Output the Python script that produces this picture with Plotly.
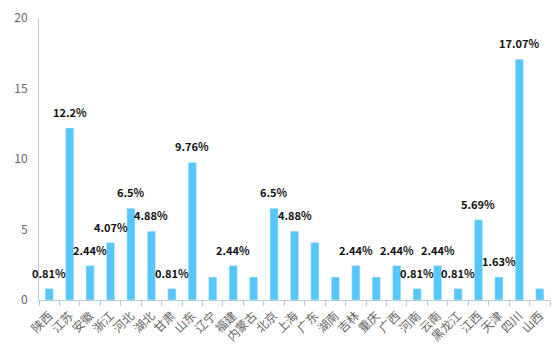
import plotly.graph_objects as go

categories = ["陕西", "江苏", "安徽", "浙江", "河北", "湖北", "甘肃", "山东", "辽宁", "福建",
              "内蒙古", "北京", "上海", "广东", "湖南", "吉林", "重庆", "广西", "河南", "云南",
              "黑龙江", "江西", "天津", "四川", "山西"]
values = [0.81, 12.2, 2.44, 4.07, 6.5, 4.88, 0.81, 9.76, 1.63, 2.44,
          1.63, 6.5, 4.88, 4.07, 1.63, 2.44, 1.63, 2.44, 0.81, 2.44,
          0.81, 5.69, 1.63, 17.07, 0.81]
label_shown = [True, True, True, True, True, True, True, True, False, True,
               False, True, True, False, False, True, False, True, True, True,
               True, True, True, True, False]
y_ticks = [0, 5, 10, 15, 20]

axis_color = "#b7c9dc"
font_family = "Microsoft YaHei, Noto Sans CJK SC, sans-serif"

fig = go.Figure()
fig.add_trace(go.Bar(x=categories, y=values, marker_color="#56c7fc", width=0.4,
                     hoverinfo="x+y"))

for c, v, s in zip(categories, values, label_shown):
    if s:
        fig.add_annotation(x=c, y=v, text="<b>%g%%</b>" % v, showarrow=False,
                           yshift=16, font=dict(size=11, color="#111", family=font_family))

fig.update_layout(
    width=560, height=360,
    margin=dict(l=31, r=18, t=10, b=68),
    plot_bgcolor="white", paper_bgcolor="white",
    showlegend=False, bargap=0.6,
    font=dict(family=font_family),
)
fig.update_xaxes(
    automargin=False,
    showline=True, linecolor=axis_color, linewidth=1,
    ticks="outside", tickson="boundaries", ticklen=5, tickcolor=axis_color,
    tickangle=-45, tickfont=dict(size=12, color="#666"), ticklabelstandoff=3,
    showgrid=False, range=[-0.5, len(categories) - 0.5],
)
fig.update_yaxes(
    automargin=False,
    range=[0, 20], tickvals=y_ticks, showline=True, linecolor=axis_color, linewidth=1,
    ticks="", showgrid=False, zeroline=False, ticklabelstandoff=8,
    tickfont=dict(size=12, color="#666"),
)

fig.write_html("out.html")
